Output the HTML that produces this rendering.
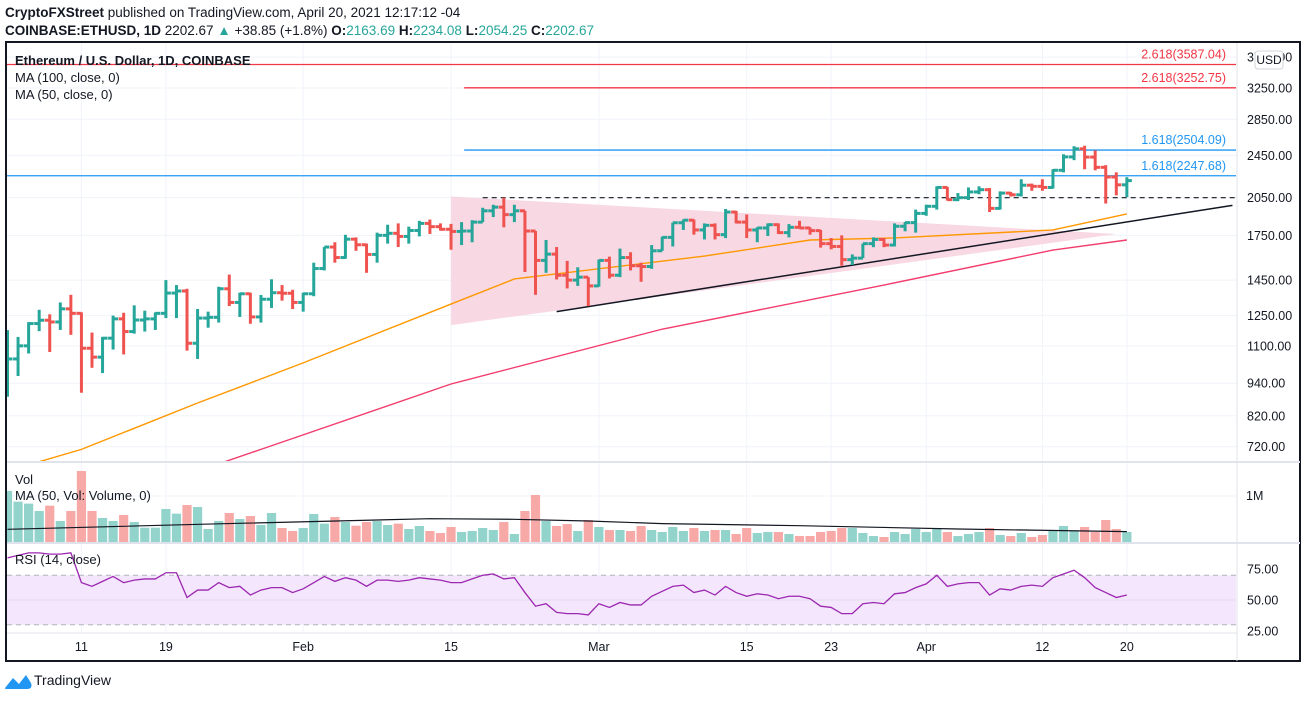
<!DOCTYPE html>
<html><head><meta charset="utf-8">
<style>
html,body{margin:0;padding:0;background:#fff;}
body{width:1307px;height:698px;overflow:hidden;font-family:"Liberation Sans",sans-serif;}
svg text{font-family:"Liberation Sans",sans-serif;}
</style></head>
<body>
<svg id="chart" width="1307" height="698" viewBox="0 0 1307 698" xmlns="http://www.w3.org/2000/svg">
  <defs>
    <clipPath id="mainClip"><rect x="7" y="43" width="1229" height="419"/></clipPath>
    <clipPath id="volClip"><rect x="7" y="463" width="1229" height="79"/></clipPath>
    <clipPath id="rsiClip"><rect x="7" y="544" width="1229" height="89"/></clipPath>
  </defs>
  <text x="5" y="17" font-size="13.5" fill="#131722"><tspan font-weight="bold">CryptoFXStreet</tspan> published on TradingView.com, April 20, 2021 12:17:12 -04</text>
  <text x="5" y="35" font-size="13.5" fill="#131722"><tspan font-weight="bold">COINBASE:ETHUSD, 1D</tspan>  2202.67 <tspan fill="#26a69a">▲</tspan> +38.85 (+1.8%) <tspan font-weight="bold">O:</tspan><tspan fill="#26a69a">2163.69</tspan> <tspan font-weight="bold">H:</tspan><tspan fill="#26a69a">2234.08</tspan> <tspan font-weight="bold">L:</tspan><tspan fill="#26a69a">2054.25</tspan> <tspan font-weight="bold">C:</tspan><tspan fill="#26a69a">2202.67</tspan></text>
  <g id="grid"></g>
  <g id="main" clip-path="url(#mainClip)"></g>
  <g id="vol" clip-path="url(#volClip)"></g>
  <g id="rsi" clip-path="url(#rsiClip)"></g>
  <g id="axes"></g>
  <rect x="6" y="42" width="1294" height="619" fill="none" stroke="#131722" stroke-width="2"/>
  <line x1="1237" y1="43" x2="1237" y2="661" stroke="#e0e3eb"/>
  <line x1="7" y1="462" x2="1300" y2="462" stroke="#e0e3eb" stroke-width="2"/>
  <line x1="7" y1="543" x2="1300" y2="543" stroke="#e0e3eb" stroke-width="2"/>
  <line x1="7" y1="633" x2="1237" y2="633" stroke="#e0e3eb"/>
  <text x="15" y="65" font-size="13" font-weight="bold" fill="#131722">Ethereum / U.S. Dollar, 1D, COINBASE</text>
  <text x="15" y="82" font-size="13" fill="#131722">MA (100, close, 0)</text>
  <text x="15" y="99" font-size="13" fill="#131722">MA (50, close, 0)</text>
  <text x="15" y="484" font-size="13" fill="#131722">Vol</text>
  <text x="15" y="500" font-size="13" fill="#131722">MA (50, Vol: Volume, 0)</text>
  <text x="15" y="564" font-size="13" fill="#131722">RSI (14, close)</text>
  <rect x="1255" y="51" width="28" height="18" rx="3" fill="#fff" stroke="#d1d4dc"/>
  <text x="1269" y="64" font-size="12" fill="#131722" text-anchor="middle">USD</text>
  <g>
    <path d="M5 688 L13 678 L19 684 L26 675 L31 683 Q33 689 27 689 L8 689 Q4 689 5 688 Z" fill="#2196f3"/>
    <text x="34" y="685" font-size="14" fill="#131722">TradingView</text>
  </g>
</svg>
<script>
// ---- data ----
const closes=[1041,1100,1208,1225,1216,1285,1261,1089,1049,1136,1232,1168,1226,1232,1261,1373,1385,1112,1236,1240,1398,1320,1369,1242,1338,1375,1372,1320,1369,1522,1666,1594,1722,1682,1615,1750,1765,1742,1786,1840,1815,1795,1779,1782,1850,1940,1970,1909,1940,1782,1575,1617,1480,1450,1468,1415,1575,1480,1594,1540,1535,1640,1735,1845,1865,1790,1825,1755,1930,1850,1790,1805,1830,1770,1810,1805,1785,1690,1670,1580,1590,1690,1720,1680,1818,1846,1919,1977,2140,2033,2050,2100,2120,1960,2090,2075,2160,2150,2140,2300,2433,2517,2431,2329,2236,2163.69,2202.67];
const firstOpen=975;
const highs=[1175,1142,1215,1280,1256,1320,1363,1266,1163,1142,1249,1264,1304,1275,1266,1450,1420,1398,1284,1270,1410,1484,1375,1375,1362,1455,1420,1392,1375,1560,1666,1700,1754,1735,1690,1770,1830,1840,1815,1860,1870,1840,1836,1850,1865,1965,1990,2050,1990,1940,1782,1716,1666,1572,1530,1468,1580,1600,1655,1630,1560,1680,1740,1845,1870,1870,1840,1840,1955,1940,1910,1810,1840,1840,1835,1860,1810,1790,1730,1750,1615,1690,1735,1730,1840,1850,1950,1990,2150,2145,2090,2140,2150,2135,2105,2100,2215,2175,2215,2310,2460,2545,2550,2500,2350,2280,2234.08];
const lows=[888,969,1065,1170,1072,1176,1152,903,1003,981,1083,1061,1158,1168,1176,1236,1236,1078,1041,1187,1213,1300,1242,1207,1213,1290,1330,1284,1270,1355,1510,1560,1586,1640,1495,1560,1690,1666,1690,1742,1760,1785,1647,1680,1700,1850,1890,1810,1850,1500,1363,1495,1454,1400,1415,1300,1410,1460,1468,1510,1440,1520,1662,1670,1790,1755,1720,1720,1730,1840,1730,1700,1745,1760,1735,1800,1755,1662,1650,1540,1545,1590,1665,1665,1670,1780,1770,1900,1950,2025,2020,2030,2080,1930,1950,2060,2060,2110,2110,2130,2280,2400,2310,2300,2000,2070,2054.25];
const volumes=[1109,877,834,674,790,457,674,1543,674,522,457,587,435,312,312,717,616,804,761,283,457,630,500,565,370,630,304,239,304,609,400,543,435,355,435,457,370,399,283,348,239,196,326,217,239,304,261,435,174,674,1022,457,348,391,239,478,326,261,261,239,348,261,217,326,239,304,239,261,261,174,304,196,217,217,174,130,130,217,239,304,304,196,130,109,217,174,283,217,283,217,130,174,217,304,152,130,196,109,152,239,348,239,326,217,478,283,217];
const rsiValues=[84,86,88,88,87,87,88,64,61,65,69,64,66,67,67,72,72,52,58,58,64,60,61,54,58,60,60,56,59,64,69,65,68,66,61,66,66,65,66,68,67,66,64,64,67,70,71,67,68,56,45,47,40,39,39,38,47,44,48,46,46,53,57,61,62,56,58,54,61,56,53,55,54,51,53,53,51,45,44,39,39,47,48,47,55,56,60,63,70,61,63,64,64,54,59,58,61,62,61,68,71,74,68,60,56,52,54];
const ma50Idx=[0,7,18,28,42,48,66,76,84,99,106];
const ma50Val=[650,712,865,1024,1311,1457,1604,1716,1731,1790,1915];
const ma100Idx=[18,24,42,62,83,99,106];
const ma100Val=[650,712,937,1180,1420,1645,1716];
const volMaIdx=[0,20,40,48,55,62,75,90,106];
const volMaVal=[276,395,507,493,457,400,355,283,225];
const priceTicks=[3700,3250,2850,2450,2050,1750,1450,1250,1100,940,820,720];
const rsiTicks=[75,50,25];
const dateLabels=["11","19","Feb","15","Mar","15","23","Apr","12","20"];
const dateIdx=[7,15,28,42,56,70,78,87,98,106];
const fibLevels=[3587.04,3252.75,2504.09,2247.68];
const fibLabels=["2.618(3587.04)","2.618(3252.75)","1.618(2504.09)","1.618(2247.68)"];
const fibStartIdx=[0,44,44,0];
const resistanceLevel=2050;
const wedgeTop=[[42,2060],[105,1760]];
const wedgeBottom=[[42,1200],[105,1760]];
const supportLine=[[52,1270],[116,1985]];

// ---- scales ----
const NS="http://www.w3.org/2000/svg";
const X=i=>7.5+i*10.56;
const YP=p=>88+(Math.log(3250)-Math.log(p))*238;
const YV=v=>542-v/1000*46;
const YR=v=>600-(v-50)*1.24;
function mk(parent,tag,attrs){const e=document.createElementNS(NS,tag);for(const k in attrs)e.setAttribute(k,attrs[k]);parent.appendChild(e);return e;}
const grid=document.getElementById('grid'),main=document.getElementById('main'),vol=document.getElementById('vol'),rsi=document.getElementById('rsi'),axes=document.getElementById('axes');

// grid
dateIdx.forEach((d,k)=>{
  const l=mk(grid,'line',{x1:X(d),x2:X(d),y1:43,y2:633,stroke:'#f0f3fa'});
  
  
  const t=mk(axes,'text',{x:X(d),y:651,'font-size':12.5,fill:'#131722','text-anchor':'middle'});
  
  
  t.textContent=dateLabels[k];
});
priceTicks.forEach(p=>{
  const y=YP(p);
  const l=mk(grid,'line',{x1:7,x2:1237,y1:y,y2:y,stroke:'#f0f3fa'});
  
  
  const t=mk(axes,'text',{x:1247,y:y+4.5,'font-size':12.5,fill:'#131722'});
  
  
  t.textContent=p.toFixed(2);
});
{const t=mk(axes,'text',{x:1246,y:500,'font-size':12.5,fill:'#131722'});


t.textContent='1M';}
mk(grid,'line',{x1:7,x2:1237,y1:YV(1000),y2:YV(1000),stroke:'#f0f3fa'});
rsiTicks.forEach(v=>{
  const t=mk(axes,'text',{x:1247,y:YR(v)+4.5,'font-size':12.5,fill:'#131722'});
  
  
  t.textContent=v.toFixed(2);
});

// wedge
{const pts=[[X(wedgeTop[0][0]),YP(wedgeTop[0][1])],[X(wedgeTop[1][0]),YP(wedgeTop[1][1])],[X(wedgeBottom[0][0]),YP(wedgeBottom[0][1])]];
const w=mk(main,'polygon',{points:pts.map(p=>p.join(',')).join(' '),fill:'#f8d6e1',opacity:0.95});

}

// fib lines
fibLevels.forEach((lv,k)=>{
  const col=k<2?'#f23645':'#2196f3';const y=YP(lv);
  const l=mk(main,'line',{x1:X(fibStartIdx[k])-8,x2:1236,y1:y,y2:y,stroke:col,'stroke-width':1.3});
  
  
  const t=mk(main,'text',{x:1226,y:y-6,'font-size':12.5,fill:col,'text-anchor':'end'});
  
  
  t.textContent=fibLabels[k];
});
{const y=YP(resistanceLevel);
const l=mk(main,'line',{x1:X(45),x2:1236,y1:y,y2:y,stroke:'#131722','stroke-width':1.2,'stroke-dasharray':'5,4'});

}

// MAs
function poly(parent,idx,vals,yf,col,w,name){
  const p=mk(parent,'polyline',{points:idx.map((d,k)=>X(d)+','+yf(vals[k])).join(' '),fill:'none',stroke:col,'stroke-width':w});
  
  
}
poly(main,ma100Idx,ma100Val,YP,'#f23d6d',1.4,'ma100-line');
poly(main,ma50Idx,ma50Val,YP,'#ff9800',1.4,'ma50-line');
{const l=mk(main,'line',{x1:X(supportLine[0][0]),y1:YP(supportLine[0][1]),x2:X(supportLine[1][0]),y2:YP(supportLine[1][1]),stroke:'#131722','stroke-width':1.5});

}

// OHLC bars
closes.forEach((c,i)=>{
  const o=i===0?firstOpen:closes[i-1];
  const h=Math.max(highs[i],o,c),lo=Math.min(lows[i],o,c);
  const col=c>=o?'#26a69a':'#ef5350';const x=X(i);
  const g=mk(main,'g',{stroke:col,'stroke-width':3});
  
  
  mk(g,'line',{x1:x,x2:x,y1:YP(h),y2:YP(lo)});
  mk(g,'line',{x1:x-5,x2:x,y1:YP(o),y2:YP(o)});
  mk(g,'line',{x1:x,x2:x+5,y1:YP(c),y2:YP(c)});
});

// volume
volumes.forEach((v,i)=>{
  const o=i===0?firstOpen:closes[i-1];
  const col=closes[i]>=o?'#92d3cc':'#f7a9a7';
  const r=mk(vol,'rect',{x:X(i)-4.6,y:YV(v),width:9.2,height:542-YV(v),fill:col});
  
  
});
poly(vol,volMaIdx,volMaVal,YV,'#131722',1.2,'volume-ma-line');

// RSI
{const b=mk(rsi,'rect',{x:7,y:YR(70),width:1230,height:YR(30)-YR(70),fill:'#f3e6fd'});


[70,30].forEach(v=>{const l=mk(rsi,'line',{x1:7,x2:1237,y1:YR(v),y2:YR(v),stroke:'#b2b5be','stroke-dasharray':'5,4'});

});
mk(rsi,'line',{x1:7,x2:1237,y1:YR(50),y2:YR(50),stroke:'#e6dcf0'});
const p=mk(rsi,'polyline',{points:rsiValues.map((v,i)=>X(i)+','+YR(v)).join(' '),fill:'none',stroke:'#9c27b0','stroke-width':1.3});

}
</script>
</body></html>
